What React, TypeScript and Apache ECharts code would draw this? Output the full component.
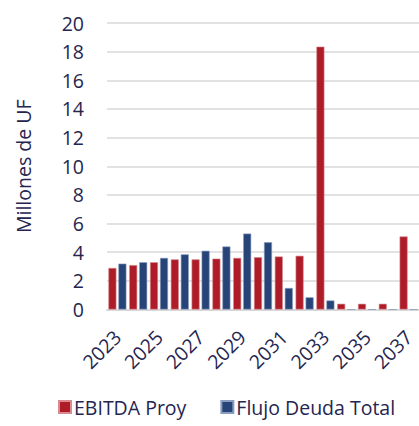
import React, { useEffect, useRef } from "react";
import * as echarts from "echarts";

const years = ["2023","2024","2025","2026","2027","2028","2029","2030","2031","2032","2033","2034","2035","2036","2037"];
const ebitda = [2.9, 3.1, 3.3, 3.5, 3.5, 3.55, 3.6, 3.65, 3.7, 3.75, 18.35, 0.4, 0.4, 0.4, 5.1];
const flujo = [3.2, 3.3, 3.6, 3.85, 4.1, 4.4, 5.3, 4.7, 1.5, 0.85, 0.63, 0, 0, 0, 0];
const yTicks = { min: 0, max: 20, interval: 2 };

const FONT = "Open Sans";
const TEXT = "#252550";

export default function App() {
  const ref = useRef<HTMLDivElement>(null);
  useEffect(() => {
    document.body.style.margin = "0";
    const chart = echarts.init(ref.current!, undefined, { renderer: "svg" });
    chart.setOption({
      animation: false,
      textStyle: { fontFamily: FONT, color: TEXT },
      grid: { left: 107, right: 0, top: 23, bottom: 116.5, containLabel: false },
      legend: {
        left: 53,
        top: 396,
        padding: [0, 5, 0, 5],
        itemWidth: 12,
        itemHeight: 12,
        itemGap: 34,
        icon: "rect",
        textStyle: { fontFamily: FONT, fontSize: 19.5, lineHeight: 22, color: TEXT, padding: [0, 0, 0, -2] },
        data: ["EBITDA Proy", "Flujo Deuda Total"],
      },
      xAxis: {
        type: "category",
        data: years,
        axisLine: { lineStyle: { color: "#d9d9d9", width: 2 } },
        axisTick: { show: false },
        axisLabel: {
          interval: 1,
          rotate: 45,
          fontFamily: FONT,
          fontSize: 19.5,
          color: TEXT,
          margin: 24,
        },
      },
      yAxis: {
        type: "value",
        min: yTicks.min,
        max: yTicks.max,
        interval: yTicks.interval,
        name: "Millones de UF",
        nameLocation: "middle",
        nameGap: 74,
        nameRotate: 90,
        nameTextStyle: { fontFamily: FONT, fontSize: 19.5, color: TEXT },
        axisLine: { show: false },
        axisTick: { show: false },
        splitLine: { lineStyle: { color: "#d9d9d9", width: 1.5 } },
        axisLabel: { fontFamily: FONT, fontSize: 19.5, color: TEXT, margin: 23 },
      },
      series: [
        {
          name: "EBITDA Proy",
          type: "bar",
          data: ebitda,
          barWidth: 8,
          barGap: "25%",
          itemStyle: { color: "#AE1C28", borderColor: "#d88a90", borderWidth: 0.6 },
        },
        {
          name: "Flujo Deuda Total",
          type: "bar",
          data: flujo,
          barWidth: 8,
          itemStyle: { color: "#264478", borderColor: "#8a9cc0", borderWidth: 0.6 },
        },
      ],
    });
    return () => chart.dispose();
  }, []);
  return <div ref={ref} style={{ width: 419, height: 426 }} />;
}
